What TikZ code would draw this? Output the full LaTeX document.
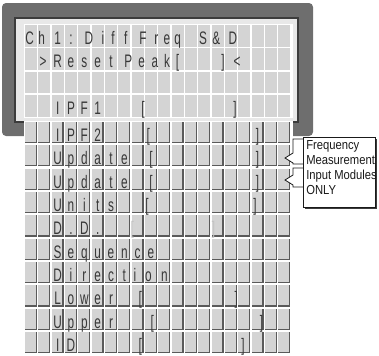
\documentclass[tikz,border=0pt]{standalone}
\usepackage{fontspec}
\usepackage{xcolor}
\definecolor{clFrame}{HTML}{6E6E6E}
\definecolor{clFrameEdge}{HTML}{3C3C3C}
\definecolor{clPanel}{HTML}{E8E8E8}
\definecolor{clCell}{HTML}{D4D4D4}
\definecolor{clCellShade}{HTML}{5A5A5A}
\definecolor{clGlyph}{HTML}{383838}
\definecolor{clNote}{HTML}{1A1A1A}
\usepackage{tikz}
\usetikzlibrary{calc}
\newfontfamily\lcdfont[FakeStretch=0.65]{Liberation Sans}
\newfontfamily\notefont[FakeStretch=0.86]{Liberation Sans}
\tikzset{
  lcdchar/.style={anchor=base, inner sep=0pt, text=clGlyph,
                  font=\lcdfont\fontsize{13.6}{14}\selectfont},
  dimchar/.style={lcdchar, text=clGlyph!30},
  cellfill/.style={fill=clCell},
  cellshade/.style={fill=clCellShade},
  notebox/.style={rectangle, draw=clNote, line width=0.6pt, fill=white,
                  minimum width=54pt, minimum height=52.5pt, inner sep=0pt,
                  preaction={fill=clNote!85, transform canvas={shift={(1.5pt,-1.5pt)}}}},
  notetext/.style={align=left, inner sep=0pt, text=clNote,
                   font=\notefont\fontsize{9.8}{11.25}\selectfont},
  bracket/.style={draw=clNote, line width=0.6pt, fill=white},
}

\begin{document}
\begin{tikzpicture}[x=0.75pt, y=-0.75pt]
  \useasboundingbox (0,0) rectangle (379,355);
  % display frame
  \fill[clFrame, rounded corners=3pt] (2,3) rectangle (313,136);
  \fill[clFrameEdge] (14,17) rectangle (299,123);
  \fill[clPanel] (16,19) rectangle (297,121);
  \fill[white] (24,24) rectangle (292.5,118);
  \foreach \r in {0,...,3}
    \foreach \c in {0,...,19}
      \fill[cellfill] ({25+13.33*\c},{25+23.4*\r}) rectangle ++(12,21.6);
  % display text
  \foreach \c/\t [count=\k] in {-0.1/C,0.8/h,2/1,3/{:},4.35/D,5.4/i,6.15/f,7.1/f,
                                8.4/F,9.4/r,10.2/e,11/q,12.9/S,13.9/{\&},15.15/D}
    \node[lcdchar] (t0-\k) at ({31+13.33*\c},44) {\t};
  \foreach \c/\t [count=\k] in {0.9/{>},2/R,3/e,4/s,5/e,6/t,7.3/P,8.3/e,9.3/a,10.2/k,
                                11/{[},14.4/{]},15.45/{<}}
    \node[lcdchar] (t1-\k) at ({31+13.33*\c},67.4) {\t};
  \foreach \c/\t [count=\k] in {2/I,3/P,4/F,5/1,8.4/{[},15.3/{]}}
    \node[lcdchar] (t3-\k) at ({31+13.33*\c},114.2) {\t};

  % menu buttons
  \fill[white] (24,121) rectangle (293,355);
  \foreach \r in {0,...,9}
    \foreach \c in {0,...,19} {
      \fill[cellshade] ({25+13.33*\c},{122+23.35*\r}) rectangle ++(12.1,21.1);
      \fill[cellfill] ({25+13.33*\c},{122+23.35*\r}) rectangle ++(10.7,19.8);
    }
  \foreach \c/\t [count=\k] in {2/I,3/P,4/F,5/2,8.8/{[},17/{]}}
    \node[lcdchar] (b0-\k) at ({31+13.33*\c},141.5) {\t};
  \foreach \c/\t [count=\k] in {2/U,3/p,4/d,5/a,6/t,7/e,9/{[},17/{]}}
    \node[lcdchar] (b1-\k) at ({31+13.33*\c},164.85) {\t};
  \foreach \c/\t [count=\k] in {2/U,3/p,4/d,5/a,6/t,7/e,9/{[},17/{]}}
    \node[lcdchar] (b2-\k) at ({31+13.33*\c},188.2) {\t};
  \foreach \c/\t [count=\k] in {2/U,3/n,4/i,5/t,6/s,8.7/{[},16.8/{]}}
    \node[lcdchar] (b3-\k) at ({31+13.33*\c},211.55) {\t};
  \foreach \c/\t [count=\k] in {2/D,3/.,4/D,5/.}
    \node[lcdchar] (b4-\k) at ({31+13.33*\c},234.9) {\t};
  \node[dimchar] (b4-dl) at ({31+13.33*7.6},234.9) {[};
  \node[dimchar] (b4-dr) at ({31+13.33*13.7},234.9) {]};
  \foreach \c/\t [count=\k] in {2/S,3/e,4/q,5/u,6/e,7/n,8/c,9/e}
    \node[lcdchar] (b5-\k) at ({31+13.33*\c},258.25) {\t};
  \foreach \c/\t [count=\k] in {2/D,3/i,4/r,5/e,6/c,7/t,7.8/i,8.8/o,10/n}
    \node[lcdchar] (b6-\k) at ({31+13.33*\c},281.6) {\t};
  \foreach \c/\t [count=\k] in {2/L,3/o,4/w,5/e,6/r,8.2/{[},15.4/{]}}
    \node[lcdchar] (b7-\k) at ({31+13.33*\c},304.95) {\t};
  \foreach \c/\t [count=\k] in {2/U,3/p,4/p,5/e,6/r,9.1/{[},17.3/{]}}
    \node[lcdchar] (b8-\k) at ({31+13.33*\c},328.3) {\t};
  \foreach \c/\t [count=\k] in {2/I,3/D,8.2/{[},15.9/{]}}
    \node[lcdchar] (b9-\k) at ({31+13.33*\c},351.65) {\t};

  % callout for the two Update rows
  \coordinate (tip1) at (285,158);
  \coordinate (tip2) at (285,180);
  \filldraw[bracket] ($(tip1)+(18,-19)$) -- ++(-10,0) -- ++(0,14) -- (tip1)
    -- ++(8,5) -- ++(0,1) -- ++(10,0);
  \filldraw[bracket] ($(tip2)+(18,-12)$) -- ++(-10,0) -- ++(0,7) -- (tip2)
    -- ++(8,5) -- ++(0,2) -- ++(10,0);
  \node[notebox, anchor=north west] (note) at (303,137) {};
  \node[notetext, anchor=north west] (notetxt) at ($(note.north west)+(3,3.5)$)
    {Frequency\\Measurement\\Input Modules\\ONLY};
\end{tikzpicture}
\end{document}
